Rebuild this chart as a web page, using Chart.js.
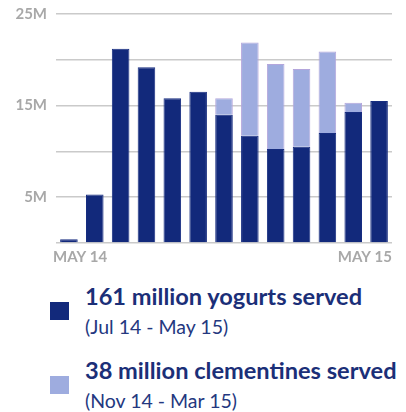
<!DOCTYPE html>
<html>
<head>
<meta charset="utf-8">
<script src="https://cdn.jsdelivr.net/npm/chart.js@4"></script>
<style>
  html, body { margin: 0; padding: 0; background: #fff; }
  #wrap { position: relative; width: 406px; height: 412px; overflow: hidden; font-family: Lato, "Open Sans", sans-serif; }
  #chartBox { position: absolute; left: 0; top: -4px; width: 406px; height: 274px; }
  .sw { position: absolute; left: 50px; width: 19px; height: 18px; }
  .title { position: absolute; left: 85px; font-weight: bold; font-size: 23.6px; line-height: 1.2; color: #1b2f78; white-space: nowrap; }
  .sub { position: absolute; left: 85px; font-size: 19.5px; line-height: 1.2; color: #24387f; white-space: nowrap; }
</style>
</head>
<body>
<div id="wrap">
  <div id="chartBox"><canvas id="myChart"></canvas></div>
  <div id="legend"></div>
</div>
<script>
// months May 14 .. May 15
const months = ['May 14', 'Jun 14', 'Jul 14', 'Aug 14', 'Sep 14', 'Oct 14', 'Nov 14',
                'Dec 14', 'Jan 15', 'Feb 15', 'Mar 15', 'Apr 15', 'May 15'];
// millions served per month
const yogurts = [0.4, 5.3, 21.2, 19.2, 15.8, 16.5, 14.0, 11.7, 10.25, 10.5, 12.0, 14.3, 15.5];
const clementines = [0, 0, 0, 0, 0, 0, 1.8, 10.2, 9.3, 8.5, 8.9, 1.0, 0];
const xLabels = ['MAY 14', 'MAY 15'];
const legendTitles = ['161 million yogurts served', '38 million clementines served'];
const legendSubs = ['(Jul 14 - May 15)', '(Nov 14 - Mar 15)'];

const darkColor = '#12297b';
const lightColor = '#9eacdf';
const axisFontColor = '#a8a8a8';
const gridColor = '#cacaca';

//----------------------------- Legend -----------------------------------
const legendEl = document.getElementById('legend');
const legendTops = [282, 356];
[darkColor, lightColor].forEach((c, i) => {
    const top = legendTops[i];
    legendEl.innerHTML +=
        '<div class="sw" style="top:' + (top + 20) + 'px;background:' + c + '"></div>' +
        '<div class="title" style="top:' + top + 'px">' + legendTitles[i] + '</div>' +
        '<div class="sub" style="top:' + (top + 33) + 'px">' + legendSubs[i] + '</div>';
});

//----------------------------- Chart -----------------------------------
// draws MAY 14 under the first bar (left aligned) and MAY 15 under the last (right aligned)
const endLabels = {
    id: 'endLabels',
    afterDraw(chart) {
        const x = chart.scales.x;
        const c = chart.ctx;
        const half = (x.getPixelForValue(1) - x.getPixelForValue(0)) / 2;
        c.save();
        c.font = 'bold 15px Lato';
        c.fillStyle = axisFontColor;
        c.textBaseline = 'top';
        c.textAlign = 'left';
        c.fillText(xLabels[0], x.getPixelForValue(0) - half - 3, chart.chartArea.bottom + 7);
        c.textAlign = 'right';
        c.fillText(xLabels[1], x.getPixelForValue(months.length - 1) + half, chart.chartArea.bottom + 7);
        c.restore();
    }
};

const ctx = document.getElementById('myChart');
new Chart(ctx, {
    type: 'bar',
    data: {
        labels: months,
        datasets: [
            {
                label: 'Yogurts',
                data: yogurts,
                backgroundColor: darkColor,
                borderColor: '#172d80',
                borderWidth: 1,
                borderSkipped: 'bottom'
            },
            {
                label: 'Clementines',
                data: clementines,
                backgroundColor: lightColor,
                borderColor: '#b4a6dc',
                borderWidth: 1,
                borderSkipped: 'bottom'
            }
        ]
    },
    options: {
        responsive: true,
        maintainAspectRatio: false,
        animation: false,
        layout: { padding: { top: 0, right: 14, left: 0, bottom: 0 } },
        datasets: { bar: { categoryPercentage: 0.68, barPercentage: 1 } },
        plugins: {
            legend: { display: false },
            tooltip: { enabled: false }
        },
        scales: {
            x: {
                stacked: true,
                grid: { display: false },
                border: { display: false },
                ticks: { display: false },
                afterFit(scale) { scale.height = 27; }
            },
            y: {
                stacked: true,
                min: 0,
                max: 25,
                grid: { color: gridColor, lineWidth: 1.5, drawTicks: false },
                border: { display: false },
                ticks: {
                    stepSize: 5,
                    padding: 9,
                    color: axisFontColor,
                    font: { family: 'Lato', size: 15, weight: 'bold' },
                    callback: v => (v % 10 === 5 ? v + 'M' : '')
                },
                afterFit(scale) { scale.width = 56; }
            }
        }
    },
    plugins: [endLabels]
});
</script>
</body>
</html>
